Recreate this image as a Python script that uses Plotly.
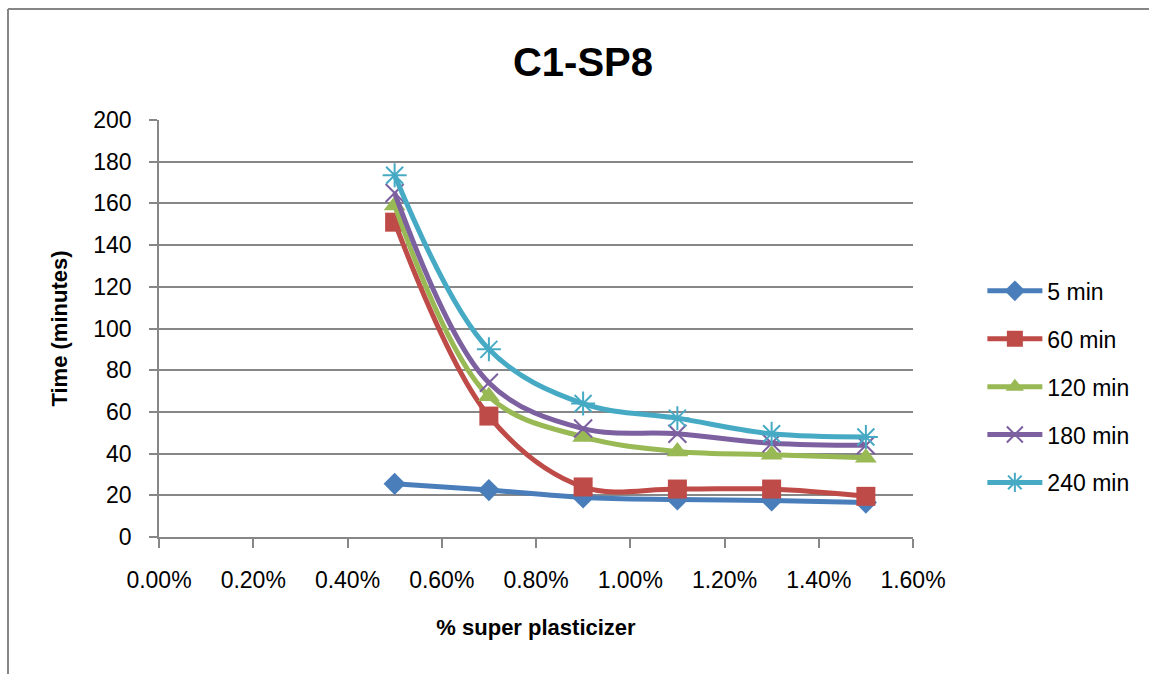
import plotly.graph_objects as go

# Data
sp_percent = [0.005, 0.007, 0.009, 0.011, 0.013, 0.015]
series_names = ["5 min", "60 min", "120 min", "180 min", "240 min"]
t5 = [25.5, 22.5, 19, 18, 17.5, 16.5]
t60 = [151, 58, 24, 23, 23, 19.5]
t120 = [159, 67.5, 48, 41, 39.5, 38]
t180 = [165, 74, 52, 49.5, 45, 44]
t240 = [173.5, 90, 64, 57, 49.5, 48]
x_ticks = [0, 0.002, 0.004, 0.006, 0.008, 0.010, 0.012, 0.014, 0.016]
y_ticks = [0, 20, 40, 60, 80, 100, 120, 140, 160, 180, 200]

colors = ["#4A7EBB", "#BE4B48", "#98B954", "#7D60A0", "#46AAC5"]
symbols = ["diamond", "square", "triangle-up", "x-thin-open", "asterisk-open"]
sizes = [17, 19, 19, 18, 20]
values = [t5, t60, t120, t180, t240]

FONT = "Liberation Sans, Arial, sans-serif"

fig = go.Figure()
for i, (name, vals) in enumerate(zip(series_names, values)):
    open_sym = symbols[i].endswith("open")
    fig.add_trace(go.Scatter(
        x=sp_percent, y=vals, name=name, mode="lines+markers",
        legendgroup=name,
        line=dict(color=colors[i], width=5, shape="spline", smoothing=1.0),
        marker=dict(symbol=symbols[i], size=sizes[i], color=colors[i],
                    line=dict(color=colors[i], width=2 if open_sym else 0)),
    ))

grid_col = "#878787"
fig.update_layout(
    width=1149, height=674,
    margin=dict(l=159, r=236, t=120, b=137),
    paper_bgcolor="white", plot_bgcolor="white",
    font=dict(family=FONT, color="black", size=23),
    title=dict(text="<b>C1-SP8</b>", x=583 / 1149, xanchor="center", xref="container",
               y=1 - 62 / 674, yanchor="middle",
               font=dict(family=FONT, size=40, color="black")),
    showlegend=True,
    legend=dict(x=1.092, xanchor="left", y=0.36, yanchor="middle",
                font=dict(family=FONT, size=23, color="black"),
                tracegroupgap=15, bgcolor="rgba(0,0,0,0)", itemwidth=55),
    xaxis=dict(range=[0, 0.016], tickvals=x_ticks, tickformat=".2%",
               showgrid=False, zeroline=False,
               showline=True, linecolor=grid_col, linewidth=1.5,
               ticks="outside", ticklen=9, tickcolor=grid_col, tickwidth=1.5,
               ticklabelstandoff=13,
               tickfont=dict(family=FONT, size=23, color="black"),
               title=dict(text="<b>% super plasticizer</b>", standoff=27,
                          font=dict(family=FONT, size=22, color="black"))),
    yaxis=dict(range=[0, 200], tickvals=y_ticks,
               showgrid=True, gridcolor=grid_col, gridwidth=1.5, zeroline=False,
               showline=True, linecolor=grid_col, linewidth=1.5,
               ticks="outside", ticklen=8, tickcolor=grid_col, tickwidth=1.5,
               ticklabelstandoff=13,
               tickfont=dict(family=FONT, size=23, color="black"),
               title=dict(text="<b>Time (minutes)</b>", standoff=20,
                          font=dict(family=FONT, size=22, color="black"))),
    shapes=[
        dict(type="line", xref="paper", yref="paper", x0=(8 - 159) / 754, x1=1.5,
             y0=(537 - 9) / 417, y1=(537 - 9) / 417,
             line=dict(color="#868686", width=2)),
        dict(type="line", xref="paper", yref="paper", x0=(8 - 159) / 754, x1=(8 - 159) / 754,
             y0=-0.4, y1=(537 - 9) / 417,
             line=dict(color="#868686", width=2)),
    ],
)

fig.write_html("out.html")
